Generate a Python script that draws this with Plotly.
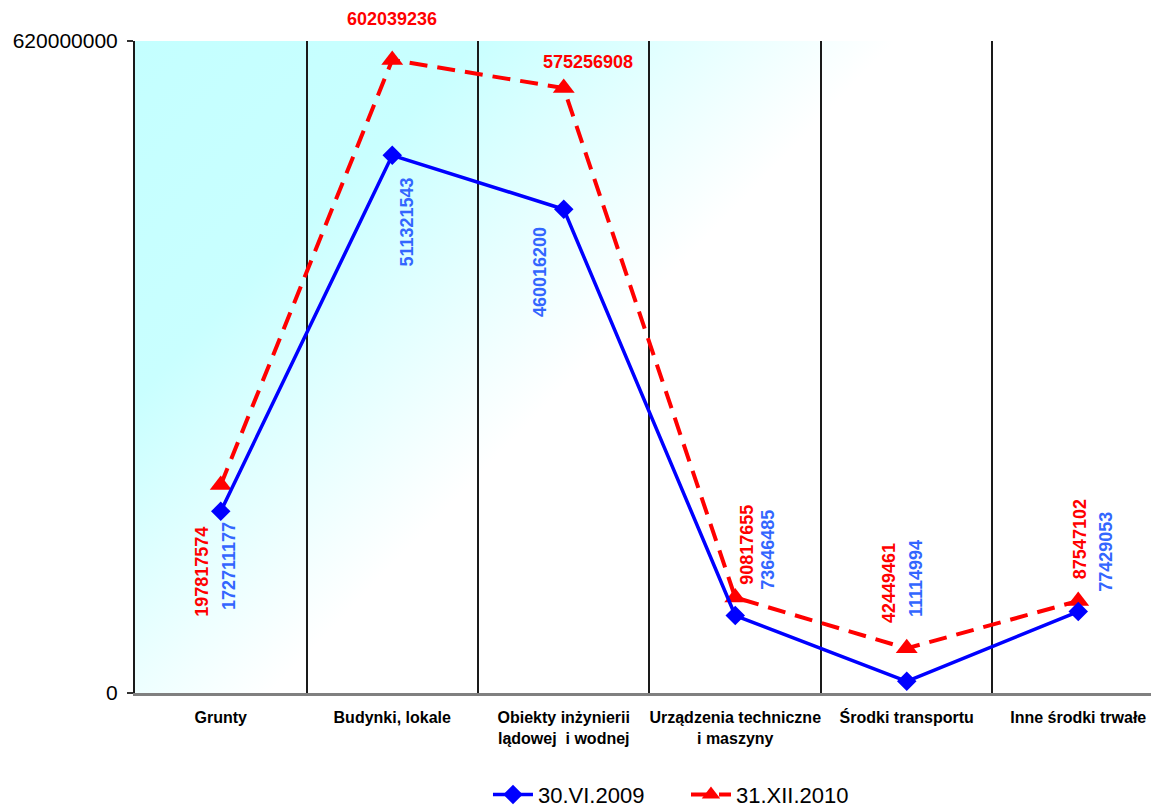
import base64
import plotly.graph_objects as go

# ---------------- data ----------------
categories = [
    "Grunty",
    "Budynki, lokale",
    "Obiekty inżynierii<br>lądowej  i wodnej",
    "Urządzenia techniczne<br>i maszyny",
    "Środki transportu",
    "Inne środki trwałe",
]
series_2009_name = "30.VI.2009"
series_2010_name = "31.XII.2010"
values_2009 = [172711177, 511321543, 460016200, 73646485, 11114994, 77429053]
values_2010 = [197817574, 602039236, 575256908, 90817655, 42449461, 87547102]
y_tick_values = [0, 620000000]
y_tick_labels = ["0", "620000000"]

# label offsets (pixels) and angles for data labels
offsets_2009 = [(9, -55, -90), (15, -67, -90), (-24, -63, -90), (32, 66, -90), (10, 103, -90), (27, 60, -90)]
offsets_2010 = [(-19, -87, -90), (0, 41, 0), (24, 26, 0), (12, 53, -90), (-17, 65, -90), (2, 62, -90)]

FONT = "Liberation Sans, Arial, sans-serif"
BLUE = "#0000ff"
RED = "#ff0000"
BLUE_LBL = "#3366ff"

fig = go.Figure()

fig.add_trace(go.Scatter(
    x=categories, y=values_2010, name=series_2010_name, mode="lines+markers",
    line=dict(color=RED, width=4, dash="18px,10px"),
    marker=dict(symbol="triangle-up", size=19, color=RED),
    legendrank=2,
))
fig.add_trace(go.Scatter(
    x=categories, y=values_2009, name=series_2009_name, mode="lines+markers",
    line=dict(color=BLUE, width=3.5),
    marker=dict(symbol="diamond", size=15, color=BLUE),
    legendrank=1,
))

annotations = []
for cat, v, (dx, dy, ang) in zip(categories, values_2010, offsets_2010):
    annotations.append(dict(x=cat, y=v, xref="x", yref="y", text=f"{v}", showarrow=False,
                            xshift=dx, yshift=dy, textangle=ang,
                            font=dict(family=FONT, size=18, color=RED, weight="bold")))
for cat, v, (dx, dy, ang) in zip(categories, values_2009, offsets_2009):
    annotations.append(dict(x=cat, y=v, xref="x", yref="y", text=f"{v}", showarrow=False,
                            xshift=dx, yshift=dy, textangle=ang,
                            font=dict(family=FONT, size=18, color=BLUE_LBL, weight="bold")))

# diagonal cyan -> white gradient for the plot area
svg = (
    '<svg xmlns="http://www.w3.org/2000/svg" width="1024" height="652" viewBox="0 0 1024 652" '
    'preserveAspectRatio="none"><defs><linearGradient id="g" gradientUnits="userSpaceOnUse" '
    'x1="0" y1="0" x2="396" y2="380"><stop offset="0" stop-color="#c4ffff"/>'
    '<stop offset="0.45" stop-color="#c9ffff"/><stop offset="1" stop-color="#ffffff"/>'
    '</linearGradient></defs><rect x="0" y="0" width="1024" height="652" fill="url(#g)"/></svg>'
)
svg_uri = "data:image/svg+xml;base64," + base64.b64encode(svg.encode()).decode()

# the page body has an 8px default margin, so the figure is sized to fit the window
fig.update_layout(
    width=1151, height=800,
    margin=dict(l=127, r=0, t=33, b=115, autoexpand=False),
    paper_bgcolor="white",
    plot_bgcolor="rgba(0,0,0,0)",
    font=dict(family=FONT, color="black"),
    showlegend=True,
    legend=dict(orientation="h", x=0.3447, xanchor="left", y=-0.156, yanchor="middle",
                font=dict(family=FONT, size=22, color="black"), bgcolor="rgba(0,0,0,0)",
                itemwidth=40, entrywidth=143, entrywidthmode="pixels"),
    annotations=annotations,
    images=[dict(source=svg_uri, xref="paper", yref="paper", x=0, y=1, sizex=1, sizey=1,
                 sizing="stretch", layer="below", xanchor="left", yanchor="top")],
    xaxis=dict(
        type="category", range=[-0.5, 5.471], showgrid=True, tickson="boundaries",
        gridcolor="#1a1a1a", gridwidth=1.5, showline=True, linecolor="#808080", linewidth=2.5,
        ticks="", ticklabelstandoff=8, automargin=False, tickangle=0,
        tickfont=dict(family=FONT, size=16, color="black", weight="bold"),
        zeroline=False,
    ),
    yaxis=dict(
        range=[0, 620000000], tickvals=y_tick_values, ticktext=y_tick_labels,
        showgrid=True, gridcolor="#808080", gridwidth=2, zeroline=False,
        showline=True, linecolor="#1a1a1a", linewidth=2, automargin=False,
        ticks="outside", ticklen=6, tickcolor="#333333", tickwidth=1.5,
        ticklabelstandoff=5,
        tickfont=dict(family=FONT, size=21, color="black"),
    ),
)

fig.write_html("out.html")
